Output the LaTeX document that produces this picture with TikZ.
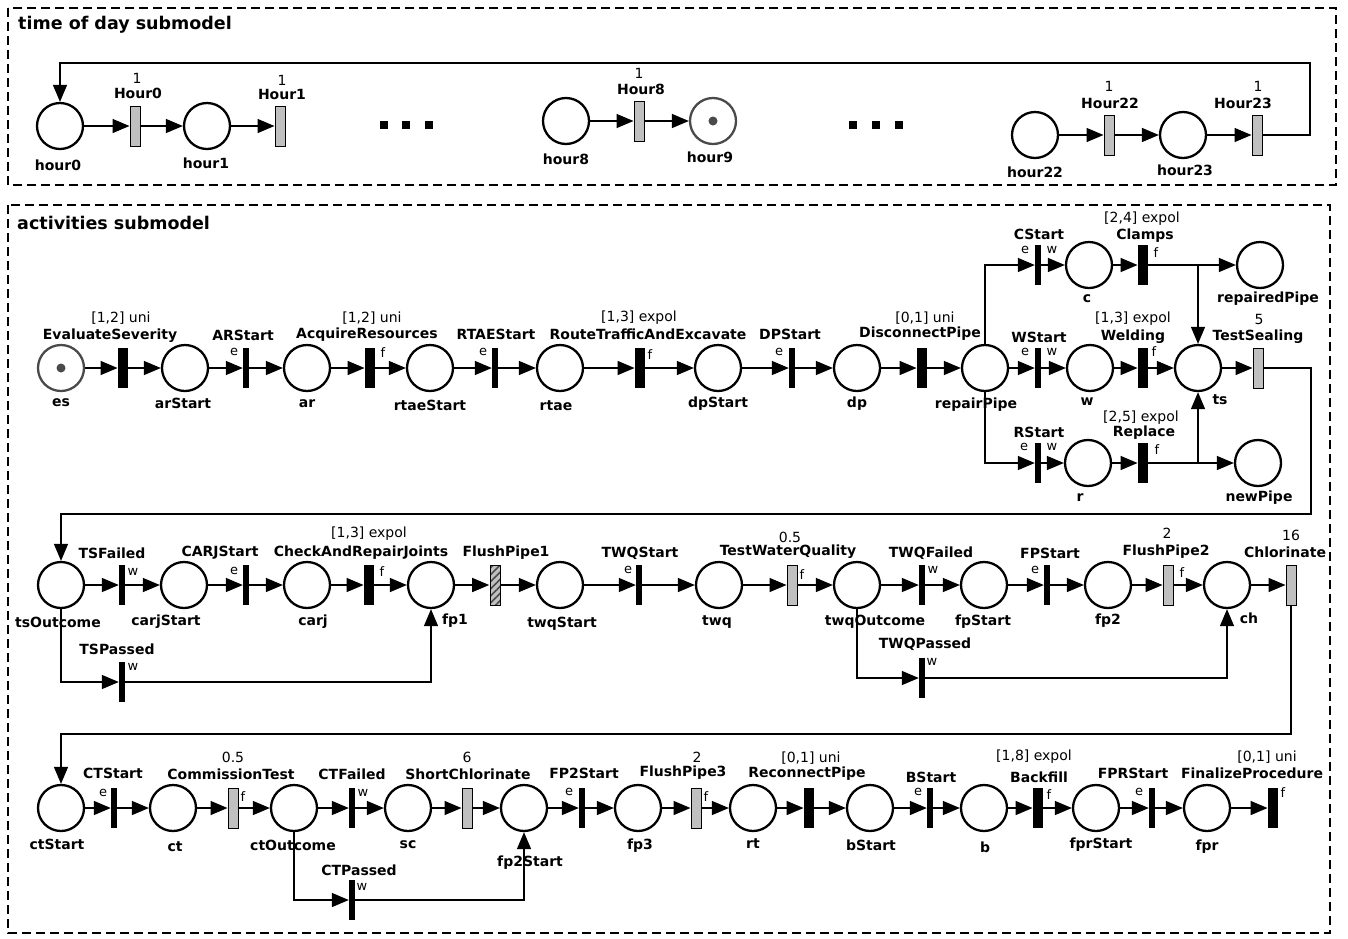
\documentclass[tikz,border=0pt]{standalone}
\usepackage{fontspec}
\setmainfont{DejaVu Sans}
\usetikzlibrary{arrows.meta,patterns.meta}
\definecolor{tgray}{HTML}{C0C0C0}
\definecolor{dgray}{HTML}{4A4A4A}
\begin{document}
\begin{tikzpicture}[x=1pt,y=-1pt,
 place/.style={circle,draw,line width=2.3pt,minimum size=46pt,inner sep=0pt},
 mplace/.style={place,draw=dgray},
 tok/.style={circle,fill=dgray,minimum size=9pt,inner sep=0pt},
 imm/.style={rectangle,fill=black,minimum width=6pt,minimum height=40pt,inner sep=0pt},
 tim/.style={rectangle,fill=black,minimum width=10.5pt,minimum height=40pt,inner sep=0pt},
 det/.style={rectangle,draw,fill=tgray,line width=1pt,minimum width=10pt,minimum height=40pt,inner sep=0pt},
 hat/.style={rectangle,draw,line width=1pt,minimum width=10pt,minimum height=40pt,inner sep=0pt,preaction={fill=tgray},pattern={Lines[angle=45,distance=5pt,line width=1.6pt]},pattern color=dgray},
 flow/.style={line width=1.5pt,-{Triangle[length=17pt,width=14pt]}},
 conn/.style={line width=1.5pt},
 bl/.style={font=\fontsize{14}{15}\selectfont\bfseries,inner sep=0pt},
 rl/.style={font=\fontsize{14}{15}\selectfont,inner sep=0pt},
 sl/.style={font=\fontsize{13}{14}\selectfont,inner sep=0pt},
 frame/.style={draw,line width=2pt,dash pattern=on 9pt off 5pt},
 sq/.style={rectangle,fill=black,minimum size=8pt,inner sep=0pt},
 ttl/.style={font=\fontsize{17.5}{19}\selectfont\bfseries,inner sep=0pt,anchor=west}
]
\useasboundingbox (0,0) rectangle (1348,938);
\fill[white] (0,0) rectangle (1348,938);
% frames
\draw[frame] (8,8) rectangle (1336,185);
\draw[frame] (8,205) rectangle (1330,933);
\node[ttl] (t1) at (18,25) {time of day submodel};
\node[ttl] (t2) at (17,223) {activities submodel};

% ---------------- time of day ----------------
\node[place] (h0) at (60,126) {};
\node[det] (H0) at (135,126) {};
\node[place] (h1) at (207,126) {};
\node[det] (H1) at (280,126) {};
\node[place] (h8) at (566,121) {};
\node[det] (H8) at (639,121) {};
\node[mplace] (h9) at (713,121) {};
\node[tok] (k9) at (713,121) {};
\node[place] (h22) at (1035,135) {};
\node[det] (H22) at (1109,135) {};
\node[place] (h23) at (1183,135) {};
\node[det] (H23) at (1257,135) {};
\node[sq] (d1) at (384,125) {};
\node[sq] (d2) at (406,125) {};
\node[sq] (d3) at (429,125) {};
\node[sq] (d4) at (853,125) {};
\node[sq] (d5) at (876,125) {};
\node[sq] (d6) at (899,125) {};
\foreach \a/\b in {h0/H0,H0/h1,h1/H1,h8/H8,H8/h9,h22/H22,H22/h23,h23/H23}
  \draw[flow] (\a) -- (\b);
\coordinate (loopR) at (1310,63);
\draw[flow] (H23.east) -- (H23 -| loopR) -- (loopR) -- (loopR -| h0) -- (h0);
\node[rl] (lH0a) at (137,78) {1};
\node[bl] (lH0) at (138,93) {Hour0};
\node[rl] (lH1a) at (282,80) {1};
\node[bl] (lH1) at (282,94) {Hour1};
\node[bl] (lh0) at (58,165) {hour0};
\node[bl] (lh1) at (206,163) {hour1};
\node[rl] (lH8a) at (639,73) {1};
\node[bl] (lH8) at (641,89) {Hour8};
\node[bl] (lh8) at (566,159) {hour8};
\node[bl] (lh9) at (710,157) {hour9};
\node[rl] (lH22a) at (1109,86) {1};
\node[bl] (lH22) at (1110,103) {Hour22};
\node[rl] (lH23a) at (1258,86) {1};
\node[bl] (lH23) at (1243,103) {Hour23};
\node[bl] (lh22) at (1035,172) {hour22};
\node[bl] (lh23) at (1185,170) {hour23};

% ---------------- activities row 1 ----------------
\node[mplace] (es) at (61,368) {};
\node[tok] (kes) at (61,368) {};
\node[tim] (ES) at (123,368) {};
\node[place] (arS) at (185,368) {};
\node[imm] (ARS) at (246,368) {};
\node[place] (ar) at (307,368) {};
\node[tim] (AR) at (370,368) {};
\node[place] (rtaeS) at (430,368) {};
\node[imm] (RTAES) at (495,368) {};
\node[place] (rtae) at (560,368) {};
\node[tim] (RTAE) at (640,368) {};
\node[place] (dpS) at (718,368) {};
\node[imm] (DPS) at (792,368) {};
\node[place] (dp) at (857,368) {};
\node[tim] (DP) at (922,368) {};
\node[place] (rp) at (985,368) {};
\node[imm] (WS) at (1038,368) {};
\node[place] (w) at (1090,368) {};
\node[tim] (Wel) at (1143,368) {};
\node[place] (ts) at (1198,368) {};
\node[det] (TS) at (1258,368) {};
\node[imm] (CS) at (1038,265) {};
\node[place] (c) at (1089,265) {};
\node[tim] (Cl) at (1143,265) {};
\node[place] (repP) at (1260,265) {};
\node[imm] (RS) at (1038,463) {};
\node[place] (r) at (1088,463) {};
\node[tim] (Rep) at (1143,463) {};
\node[place] (newP) at (1258,463) {};
\foreach \a/\b in {es/ES,ES/arS,arS/ARS,ARS/ar,ar/AR,AR/rtaeS,rtaeS/RTAES,RTAES/rtae,rtae/RTAE,RTAE/dpS,dpS/DPS,DPS/dp,dp/DP,DP/rp,rp/WS,WS/w,w/Wel,Wel/ts,ts/TS,CS/c,c/Cl,Cl/repP,RS/r,r/Rep,Rep/newP}
  \draw[flow] (\a) -- (\b);
\draw[flow] (rp) |- (CS);
\draw[flow] (rp) |- (RS);
\draw[flow] (Cl) -| (ts);
\draw[flow] (Rep) -| (ts);

\node[rl] (l1) at (121,318) {[1,2] uni};
\node[bl] (l2) at (110,336) {EvaluateSeverity};
\node[bl] (l3) at (243,335) {ARStart};
\node[sl] (l4) at (234,352) {e};
\node[rl] (l5) at (372,318) {[1,2] uni};
\node[bl] (l6) at (367,335) {AcquireResources};
\node[sl] (l7) at (383,353) {f};
\node[bl] (l8) at (496,334) {RTAEStart};
\node[sl] (l9) at (483,352) {e};
\node[rl] (l10) at (639,318) {[1,3] expol};
\node[bl] (l11) at (648,334) {RouteTrafficAndExcavate};
\node[sl] (l12) at (650,355) {f};
\node[bl] (l13) at (790,334) {DPStart};
\node[sl] (l14) at (779,352) {e};
\node[rl] (l15) at (925,318) {[0,1] uni};
\node[bl] (l16) at (920,334) {DisconnectPipe};
\node[bl] (p1) at (61,403) {es};
\node[bl] (p2) at (183,403) {arStart};
\node[bl] (p3) at (307,404) {ar};
\node[bl] (p4) at (430,405) {rtaeStart};
\node[bl] (p5) at (556,406) {rtae};
\node[bl] (p6) at (718,404) {dpStart};
\node[bl] (p7) at (857,404) {dp};
\node[bl] (p8) at (976,405) {repairPipe};
\node[bl] (p9) at (1087,402) {w};
\node[bl] (p10) at (1220,400) {ts};
\node[bl] (m1) at (1039,234) {CStart};
\node[sl] (m2) at (1025,250) {e};
\node[sl] (m3) at (1052,250) {w};
\node[rl] (m4) at (1142,219) {[2,4] expol};
\node[bl] (m5) at (1145,236) {Clamps};
\node[sl] (m6) at (1156,253) {f};
\node[bl] (m7) at (1087,299) {c};
\node[bl] (m8) at (1268,299) {repairedPipe};
\node[rl] (m9) at (1133,319) {[1,3] expol};
\node[bl] (m10) at (1133,337) {Welding};
\node[bl] (m11) at (1039,337) {WStart};
\node[sl] (m12) at (1025,352) {e};
\node[sl] (m13) at (1052,352) {w};
\node[sl] (m14) at (1154,352) {f};
\node[rl] (m15) at (1259,319) {5};
\node[bl] (m16) at (1258,337) {TestSealing};
\node[rl] (m17) at (1141,418) {[2,5] expol};
\node[bl] (m18) at (1144,433) {Replace};
\node[bl] (m19) at (1039,432) {RStart};
\node[sl] (m20) at (1024,447) {e};
\node[sl] (m21) at (1052,447) {w};
\node[sl] (m22) at (1157,450) {f};
\node[bl] (m23) at (1080,498) {r};
\node[bl] (m24) at (1259,498) {newPipe};

% ---------------- activities row 2 ----------------
\node[place] (tsO) at (61,585) {};
\node[imm] (TSF) at (122,585) {};
\node[place] (carjS) at (184,585) {};
\node[imm] (CARJS) at (246,585) {};
\node[place] (carj) at (307,585) {};
\node[tim] (CARJ) at (369,585) {};
\node[place] (fp1) at (431,585) {};
\node[hat] (FP1) at (495,585) {};
\node[place] (twqS) at (560,585) {};
\node[imm] (TWQS) at (639,585) {};
\node[place] (twq) at (719,585) {};
\node[det] (TWQ) at (792,585) {};
\node[place] (twqO) at (857,585) {};
\node[imm] (TWQF) at (922,585) {};
\node[place] (fpS) at (984,585) {};
\node[imm] (FPS) at (1047,585) {};
\node[place] (fp2) at (1108,585) {};
\node[det] (FP2) at (1168,585) {};
\node[place] (ch) at (1227,585) {};
\node[det] (Chl) at (1291,585) {};
\node[imm] (TSP) at (122,682) {};
\node[imm] (TWQP) at (922,678) {};
\foreach \a/\b in {tsO/TSF,TSF/carjS,carjS/CARJS,CARJS/carj,carj/CARJ,CARJ/fp1,fp1/FP1,FP1/twqS,twqS/TWQS,TWQS/twq,twq/TWQ,TWQ/twqO,twqO/TWQF,TWQF/fpS,fpS/FPS,FPS/fp2,fp2/FP2,FP2/ch,ch/Chl}
  \draw[flow] (\a) -- (\b);
\draw[flow] (tsO) |- (TSP);
\draw[flow] (TSP) -| (fp1);
\draw[flow] (twqO) |- (TWQP);
\draw[flow] (TWQP) -| (ch);
\coordinate (backA) at (1311,514);
\draw[flow] (TS.east) -- (TS -| backA) -- (backA) -- (backA -| tsO) -- (tsO);

\node[bl] (q1) at (112,553) {TSFailed};
\node[sl] (q2) at (133,572) {w};
\node[bl] (q3) at (220,553) {CARJStart};
\node[sl] (q4) at (234,571) {e};
\node[rl] (q5) at (369,534) {[1,3] expol};
\node[bl] (q6) at (361,553) {CheckAndRepairJoints};
\node[sl] (q7) at (382,572) {f};
\node[bl] (q8) at (58,622) {tsOutcome};
\node[bl] (q9) at (166,622) {carjStart};
\node[bl] (q10) at (313,622) {carj};
\node[bl] (q11) at (455,621) {fp1};
\node[bl] (q12) at (117,649) {TSPassed};
\node[sl] (q13) at (133,667) {w};
\node[bl] (q14) at (506,553) {FlushPipe1};
\node[bl] (q15) at (562,624) {twqStart};
\node[bl] (q16) at (640,553) {TWQStart};
\node[sl] (q17) at (628,570) {e};
\node[bl] (q18) at (717,622) {twq};
\node[rl] (q19) at (790,537) {0.5};
\node[bl] (q20) at (788,552) {TestWaterQuality};
\node[sl] (q21) at (802,575) {f};
\node[bl] (q22) at (875,622) {twqOutcome};
\node[bl] (q23) at (931,553) {TWQFailed};
\node[sl] (q24) at (933,570) {w};
\node[bl] (q25) at (983,622) {fpStart};
\node[bl] (q26) at (1050,553) {FPStart};
\node[sl] (q27) at (1035,570) {e};
\node[bl] (q28) at (1108,621) {fp2};
\node[rl] (q29) at (1167,533) {2};
\node[bl] (q30) at (1166,552) {FlushPipe2};
\node[sl] (q31) at (1182,573) {f};
\node[bl] (q32) at (1249,618) {ch};
\node[rl] (q33) at (1291,535) {16};
\node[bl] (q34) at (1285,552) {Chlorinate};
\node[bl] (q35) at (925,644) {TWQPassed};
\node[sl] (q36) at (932,662) {w};

% ---------------- activities row 3 ----------------
\node[place] (ctS) at (61,808) {};
\node[imm] (CTS) at (114,808) {};
\node[place] (ct) at (173,808) {};
\node[det] (CT) at (233,808) {};
\node[place] (ctO) at (294,808) {};
\node[imm] (CTF) at (352,808) {};
\node[place] (sc) at (408,808) {};
\node[det] (SC) at (467,808) {};
\node[place] (fp2S) at (524,808) {};
\node[imm] (FP2S) at (582,808) {};
\node[place] (fp3) at (638,808) {};
\node[det] (FP3) at (696,808) {};
\node[place] (rt) at (753,808) {};
\node[tim] (RP) at (809,808) {};
\node[place] (bS) at (870,808) {};
\node[imm] (BS) at (930,808) {};
\node[place] (b) at (984,808) {};
\node[tim] (BF) at (1038,808) {};
\node[place] (fprS) at (1096,808) {};
\node[imm] (FPRS) at (1152,808) {};
\node[place] (fpr) at (1207,808) {};
\node[tim] (FPr) at (1273,808) {};
\node[imm] (CTP) at (352,900) {};
\foreach \a/\b in {ctS/CTS,CTS/ct,ct/CT,CT/ctO,ctO/CTF,CTF/sc,sc/SC,SC/fp2S,fp2S/FP2S,FP2S/fp3,fp3/FP3,FP3/rt,rt/RP,RP/bS,bS/BS,BS/b,b/BF,BF/fprS,fprS/FPRS,FPRS/fpr,fpr/FPr}
  \draw[flow] (\a) -- (\b);
\draw[flow] (ctO) |- (CTP);
\draw[flow] (CTP) -| (fp2S);
\coordinate (backB) at (1291,734);
\draw[flow] (Chl.south) -- (backB) -- (backB -| ctS) -- (ctS);

\node[bl] (s1) at (113,773) {CTStart};
\node[sl] (s2) at (103,793) {e};
\node[rl] (s3) at (233,757) {0.5};
\node[bl] (s4) at (231,774) {CommissionTest};
\node[sl] (s5) at (243,797) {f};
\node[bl] (s6) at (352,774) {CTFailed};
\node[sl] (s7) at (363,793) {w};
\node[bl] (s8) at (57,844) {ctStart};
\node[bl] (s9) at (175,847) {ct};
\node[bl] (s10) at (293,845) {ctOutcome};
\node[bl] (s11) at (408,845) {sc};
\node[bl] (s12) at (359,870) {CTPassed};
\node[sl] (s13) at (362,887) {w};
\node[rl] (s14) at (467,757) {6};
\node[bl] (s15) at (468,774) {ShortChlorinate};
\node[bl] (s16) at (584,773) {FP2Start};
\node[sl] (s17) at (569,792) {e};
\node[rl] (s18) at (697,757) {2};
\node[bl] (s19) at (683,773) {FlushPipe3};
\node[sl] (s20) at (706,797) {f};
\node[rl] (s21) at (811,758) {[0,1] uni};
\node[bl] (s22) at (807,774) {ReconnectPipe};
\node[bl] (s23) at (530,863) {fp2Start};
\node[bl] (s24) at (640,846) {fp3};
\node[bl] (s25) at (753,844) {rt};
\node[bl] (s26) at (871,845) {bStart};
\node[bl] (s27) at (931,777) {BStart};
\node[sl] (s28) at (918,792) {e};
\node[rl] (s29) at (1034,757) {[1,8] expol};
\node[bl] (s30) at (1039,777) {Backfill};
\node[sl] (s31) at (1049,795) {f};
\node[bl] (s32) at (1101,845) {fprStart};
\node[bl] (s33) at (1133,773) {FPRStart};
\node[sl] (s34) at (1139,792) {e};
\node[bl] (s35) at (1252,773) {FinalizeProcedure};
\node[rl] (s36) at (1267,757) {[0,1] uni};
\node[sl] (s37) at (1283,793) {f};
\node[bl] (s38) at (985,847) {b};
\node[bl] (s39) at (1207,847) {fpr};
\end{tikzpicture}
\end{document}
